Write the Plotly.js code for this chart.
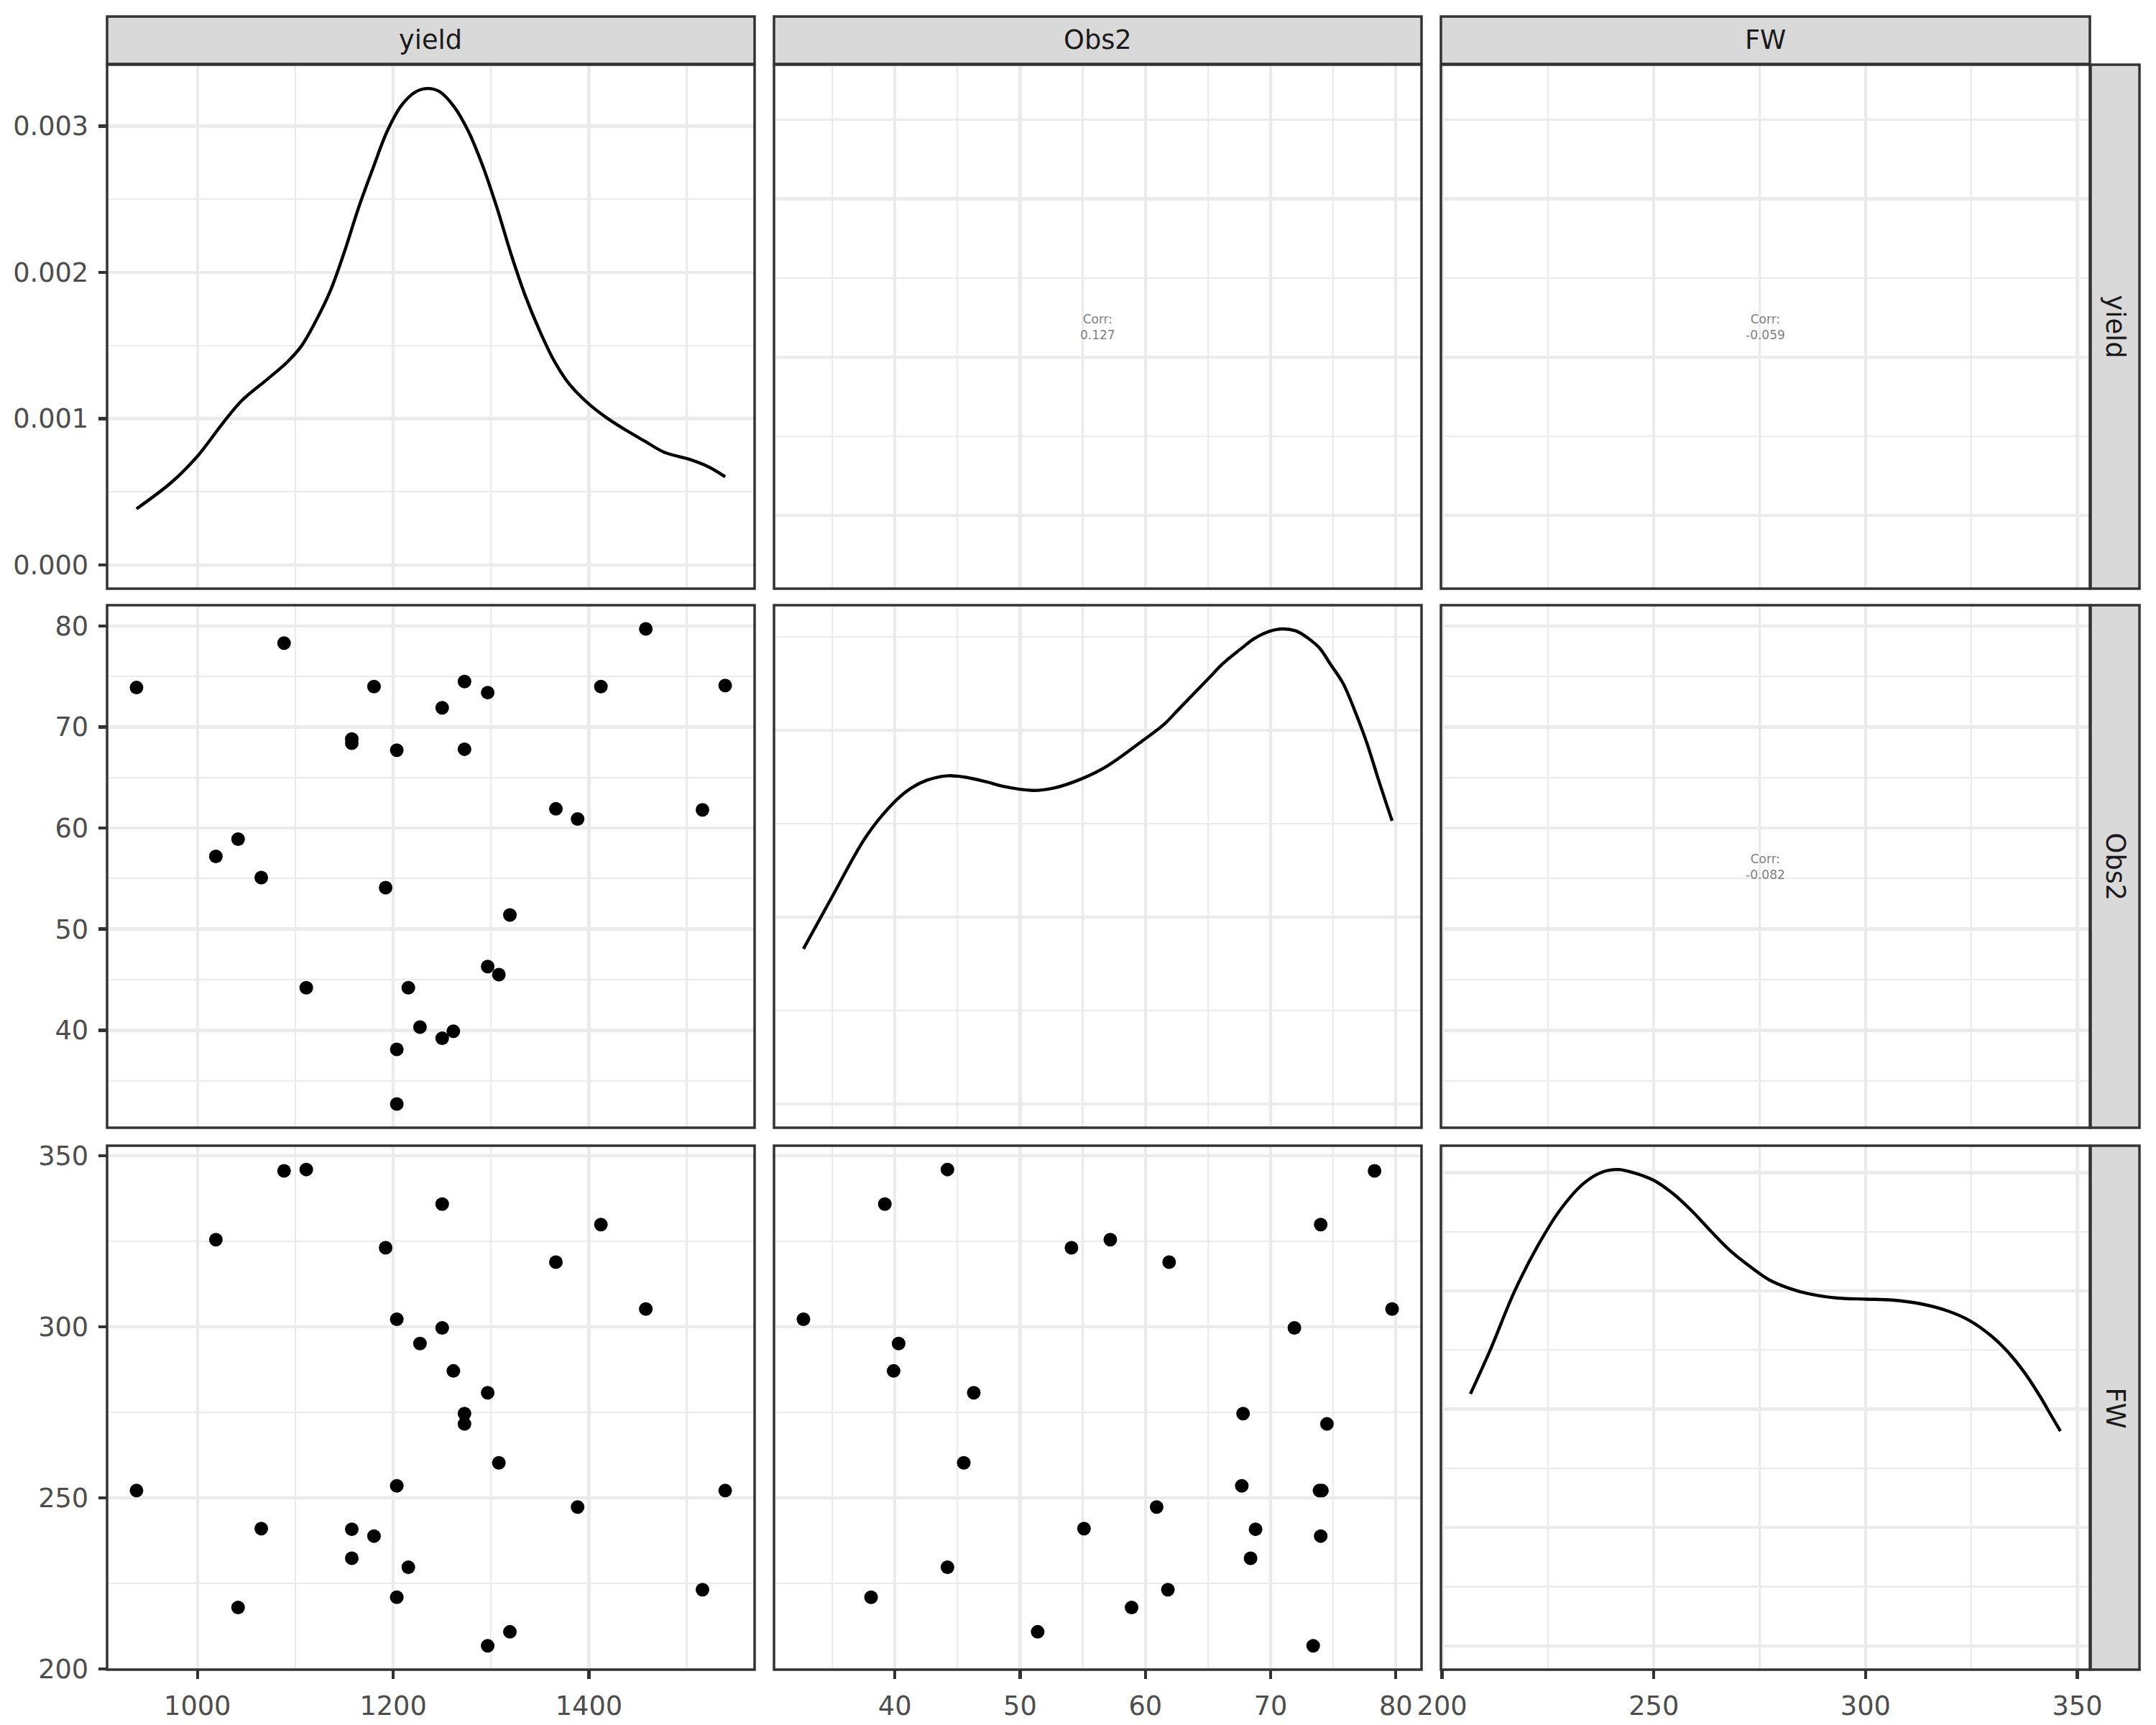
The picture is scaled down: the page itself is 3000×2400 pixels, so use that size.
<!DOCTYPE html>
<html>
<head>
<meta charset="utf-8">
<script src="https://cdn.plot.ly/plotly-3.0.1.min.js"></script>
<style>html,body{margin:0;padding:0;background:#fff;}#chart{width:3000px;height:2400px;}</style>
</head>
<body>
<div id="chart"></div>
<script>
// ---------- data ----------
const variables = ['yield', 'Obs2', 'FW'];
const yieldVals = [937.7, 1088.5, 1111.2, 1018.8, 1250.1, 1412.3, 1192.3, 1366.3, 1458.2, 1203.7,
  1250.1, 1227.4, 1261.5, 1296.6, 1272.9, 1272.9, 1308.0, 1203.7, 1539.3, 1388.5,
  1065.2, 1157.7, 1180.4, 1157.7, 1215.5, 1516.1, 1203.7, 1041.5, 1319.3, 1296.6];
const obs2Vals = [73.9, 78.3, 44.2, 57.2, 39.2, 74.0, 54.1, 61.9, 79.7, 32.7,
  71.9, 40.3, 39.9, 46.3, 67.8, 74.5, 45.5, 67.7, 74.1, 60.9,
  55.1, 68.8, 74.0, 68.4, 44.2, 61.8, 38.1, 58.9, 51.4, 73.4];
const fwVals = [252.1, 345.6, 346.0, 325.5, 335.9, 329.9, 323.1, 318.9, 305.2, 302.2,
  299.7, 295.1, 287.1, 280.7, 274.6, 271.6, 260.2, 253.5, 252.1, 247.3,
  241.0, 240.8, 238.8, 232.3, 229.7, 223.1, 220.9, 217.9, 210.8, 206.7];

const yieldDensX = [937.7, 973, 999, 1025, 1045, 1071, 1091.5, 1106.1, 1120.7, 1135.4, 1150.0,
  1164.6, 1179.3, 1193.9, 1208.5, 1223.2, 1235.4, 1247.6, 1262.2, 1276.8, 1291.5, 1306.1,
  1320.7, 1335.4, 1350.0, 1364.6, 1379.3, 1398.8, 1418.3, 1437.8, 1457.3, 1477, 1503, 1523, 1539.3];
const yieldDensY = [0.000383, 0.000562, 0.000735, 0.000961, 0.001121, 0.001267, 0.001385,
  0.001495, 0.001664, 0.001867, 0.002137, 0.002441, 0.002711, 0.002965, 0.003142, 0.003235,
  0.003257, 0.003235, 0.003133, 0.002965, 0.002728, 0.002441, 0.002120, 0.001833, 0.001596,
  0.001394, 0.001242, 0.001107, 0.001005, 0.000921, 0.000845, 0.000770, 0.000721, 0.000668, 0.000602];

const obs2DensX = [32.7, 34.9, 37.7, 39.7, 41.1, 42.5, 44.2, 45.5, 47.3, 48.6, 51.0, 52.7, 54.8,
  56.8, 59.9, 61.5, 62.6, 63.8, 65.0, 66.2, 67.6, 68.7, 69.9, 70.9, 72.0, 72.9, 73.9, 74.8,
  75.8, 76.7, 77.7, 78.6, 79.7];
const obs2DensY = [0.00830, 0.01098, 0.01431, 0.01598, 0.01681, 0.01731, 0.01756, 0.01750, 0.01724,
  0.01700, 0.01678, 0.01691, 0.01737, 0.01802, 0.01950, 0.02032, 0.02108, 0.02191, 0.02274,
  0.02357, 0.02434, 0.02491, 0.02529, 0.02542, 0.02532, 0.02497, 0.02440, 0.02351, 0.02249,
  0.02108, 0.01929, 0.01738, 0.01515];

const fwDensX = [206.7, 211.5, 217.0, 222.4, 227.9, 233.4, 237.7, 241.6, 245.5, 250.0, 254.5, 259.1,
  263.6, 268.1, 272.7, 277.2, 281.8, 286.9, 293.4, 299.9, 306.3, 312.8, 319.3, 324.5, 329.7,
  333.5, 337.4, 341.3, 343.1, 346.0];
const fwDensY = [0.004260, 0.005022, 0.005975, 0.006737, 0.007371, 0.007816, 0.008006, 0.008053,
  0.007992, 0.007870, 0.007648, 0.007344, 0.007000, 0.006676, 0.006413, 0.006190, 0.006049,
  0.005947, 0.005879, 0.005862, 0.005846, 0.005785, 0.005664, 0.005502, 0.005239, 0.004976,
  0.004632, 0.004206, 0.003984, 0.003630];

const corrLabels = ['0.127', '-0.059', '-0.082'];

// ---------- layout helpers ----------
const W = 3000, H = 2400;
const colPx = [[149, 1050], [1077, 1978], [2005, 2908]];
const rowPx = [[90, 819], [842, 1569], [1594, 2323]];
const xDom = c => [colPx[c][0] / W, colPx[c][1] / W];
const yDom = r => [1 - rowPx[r][1] / H, 1 - rowPx[r][0] / H];

function expand(arr) {
  const mn = Math.min(...arr), mx = Math.max(...arr), s = mx - mn;
  return [mn - 0.05 * s, mx + 0.05 * s];
}
function dens(arr) { const mx = Math.max(...arr); return [-0.05 * mx, 1.05 * mx]; }

const varRange = [expand(yieldVals), expand(obs2Vals), expand(fwVals)];
const varTicks = [[200, 100], [10, 5], [50, 25]];
const densRange = [dens(yieldDensY), dens(obs2DensY), dens(fwDensY)];
const densTicks = [[0.001, 0.0005], [0.01, 0.005], [0.002, 0.001]];

const GRID = '#EBEBEB';
const tickFont = {family: 'DejaVu Sans', size: 36.7, color: '#4D4D4D'};

function axis(domain, range, dt, mdt, anchor, showLabels, fmt) {
  const a = {
    domain: domain, range: range, anchor: anchor, autorange: false,
    tickmode: 'linear', tick0: 0, dtick: dt,
    showgrid: true, gridcolor: GRID, gridwidth: 4.4, zeroline: false,
    showline: false, fixedrange: true,
    minor: {tickmode: 'linear', tick0: 0, dtick: mdt, showgrid: true, gridcolor: GRID, gridwidth: 2.2, ticks: ''},
    tickfont: tickFont
  };
  if (showLabels) {
    a.ticks = 'outside'; a.ticklen = 11.5; a.tickwidth = 4.4; a.tickcolor = '#333333';
    a.showticklabels = true; a.ticklabelstandoff = 6;
  } else {
    a.ticks = ''; a.showticklabels = false;
  }
  if (fmt) a.tickformat = fmt;
  return a;
}

const layout = {
  width: W, height: H,
  margin: {l: 0, r: 0, t: 0, b: 0, pad: 0},
  paper_bgcolor: '#ffffff', plot_bgcolor: '#ffffff',
  showlegend: false,
  font: {family: 'DejaVu Sans'},
  shapes: [], annotations: []
};

for (let r = 0; r < 3; r++) {
  for (let c = 0; c < 3; c++) {
    const k = r * 3 + c + 1;
    const xs = k === 1 ? '' : String(k);
    const diag = r === c;
    layout['xaxis' + xs] = axis(xDom(c), varRange[c], varTicks[c][0], varTicks[c][1], 'y' + xs, r === 2, null);
    if (diag) {
      layout['yaxis' + xs] = axis(yDom(r), densRange[r], densTicks[r][0], densTicks[r][1], 'x' + xs, c === 0, r === 0 ? '.3f' : null);
    } else {
      layout['yaxis' + xs] = axis(yDom(r), varRange[r], varTicks[r][0], varTicks[r][1], 'x' + xs, c === 0, null);
    }
    layout.shapes.push({type: 'rect', xref: 'paper', yref: 'paper', layer: 'above',
      x0: xDom(c)[0], x1: xDom(c)[1], y0: yDom(r)[0], y1: yDom(r)[1],
      line: {color: '#333333', width: 3.5}, fillcolor: 'rgba(0,0,0,0)'});
  }
}

// strips
const stripTop = [23, 89], stripRight = [2909, 2977];
for (let i = 0; i < 3; i++) {
  layout.shapes.push({type: 'rect', xref: 'paper', yref: 'paper', layer: 'above',
    x0: xDom(i)[0], x1: xDom(i)[1], y0: 1 - stripTop[1] / H, y1: 1 - stripTop[0] / H,
    line: {color: '#333333', width: 3.5}, fillcolor: '#D9D9D9'});
  layout.annotations.push({xref: 'paper', yref: 'paper', x: (xDom(i)[0] + xDom(i)[1]) / 2,
    y: 1 - (stripTop[0] + stripTop[1]) / 2 / H, text: variables[i], showarrow: false,
    xanchor: 'center', yanchor: 'middle', font: {family: 'DejaVu Sans', size: 36.7, color: '#1A1A1A'}});
  layout.shapes.push({type: 'rect', xref: 'paper', yref: 'paper', layer: 'above',
    x0: stripRight[0] / W, x1: stripRight[1] / W, y0: yDom(i)[0], y1: yDom(i)[1],
    line: {color: '#333333', width: 3.5}, fillcolor: '#D9D9D9'});
  layout.annotations.push({xref: 'paper', yref: 'paper', x: (stripRight[0] + stripRight[1]) / 2 / W,
    y: (yDom(i)[0] + yDom(i)[1]) / 2, text: variables[i], showarrow: false, textangle: 90,
    xanchor: 'center', yanchor: 'middle', font: {family: 'DejaVu Sans', size: 36.7, color: '#1A1A1A'}});
}

// correlation labels in upper panels
const corrPanels = ['2', '3', '6'];
corrPanels.forEach((s, i) => {
  layout.annotations.push({xref: 'x' + s + ' domain', yref: 'y' + s + ' domain', x: 0.5, y: 0.5,
    text: 'Corr:<br>' + corrLabels[i], showarrow: false, align: 'center',
    xanchor: 'center', yanchor: 'middle',
    font: {family: 'DejaVu Sans', size: 17, color: '#7F7F7F'}});
});

// ---------- traces ----------
const lineStyle = {color: '#000000', width: 4.4, shape: 'spline', smoothing: 1};
const markerStyle = {color: '#000000', size: 19, line: {width: 0}};
const traces = [
  {type: 'scatter', mode: 'lines', x: yieldDensX, y: yieldDensY, xaxis: 'x', yaxis: 'y', line: lineStyle, hoverinfo: 'skip'},
  {type: 'scatter', mode: 'markers', x: [], y: [], xaxis: 'x2', yaxis: 'y2', hoverinfo: 'skip'},
  {type: 'scatter', mode: 'markers', x: [], y: [], xaxis: 'x3', yaxis: 'y3', hoverinfo: 'skip'},
  {type: 'scatter', mode: 'markers', x: yieldVals, y: obs2Vals, xaxis: 'x4', yaxis: 'y4', marker: markerStyle, hoverinfo: 'skip'},
  {type: 'scatter', mode: 'lines', x: obs2DensX, y: obs2DensY, xaxis: 'x5', yaxis: 'y5', line: lineStyle, hoverinfo: 'skip'},
  {type: 'scatter', mode: 'markers', x: [], y: [], xaxis: 'x6', yaxis: 'y6', hoverinfo: 'skip'},
  {type: 'scatter', mode: 'markers', x: yieldVals, y: fwVals, xaxis: 'x7', yaxis: 'y7', marker: markerStyle, hoverinfo: 'skip'},
  {type: 'scatter', mode: 'markers', x: obs2Vals, y: fwVals, xaxis: 'x8', yaxis: 'y8', marker: markerStyle, hoverinfo: 'skip'},
  {type: 'scatter', mode: 'lines', x: fwDensX, y: fwDensY, xaxis: 'x9', yaxis: 'y9', line: lineStyle, hoverinfo: 'skip'}
];

Plotly.newPlot('chart', traces, layout, {displayModeBar: false, staticPlot: true});
</script>
</body>
</html>
